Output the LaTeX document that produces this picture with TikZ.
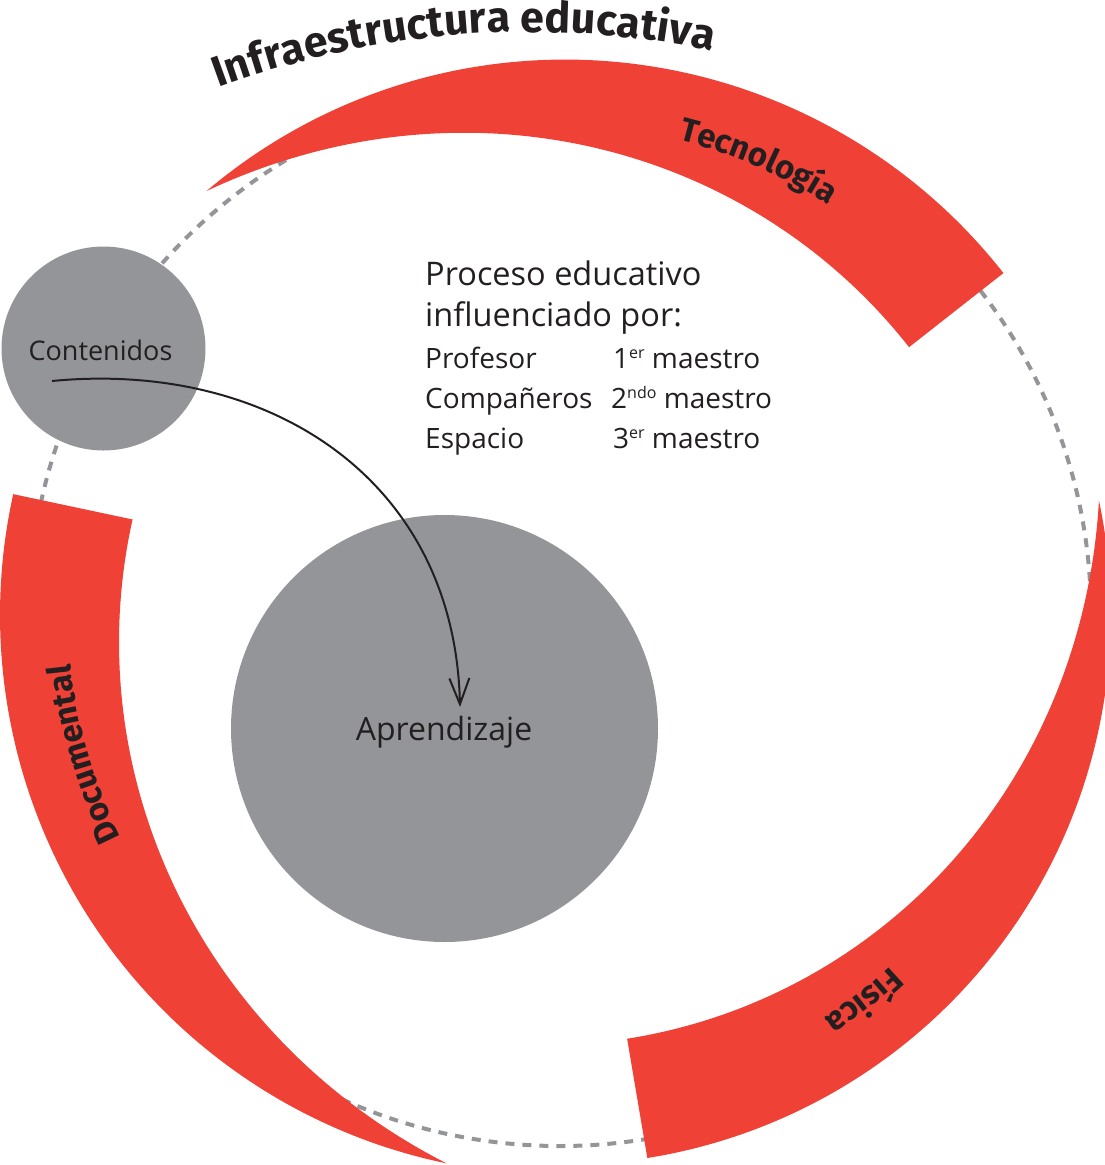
\documentclass[tikz,border=0pt]{standalone}
\usepackage{fontspec}
\setmainfont{Open Sans}
\newfontfamily\labfont{Fira Sans}
\usetikzlibrary{decorations.text,arrows.meta,calc}
\definecolor{bandred}{HTML}{EF4136}
\definecolor{cgray}{HTML}{939598}
\definecolor{ink}{HTML}{231F20}
% small raised ordinal
\newcommand\ordsup[1]{\raisebox{10pt}{\fontsize{16}{16}\selectfont #1}}
% crescent band around the common centre (560,-615)
% #1 tip angle, #2 end angle, #3 outer radius at tip, #4 outer radius at end, #5 thickness at end
\newcommand\redband[5]{%
  \fill[bandred]
    plot[domain=0:1,samples=100,variable=\s]
      ({560+(#3+(#4-#3)*\s)*cos(#1+(#2-#1)*\s)},{-615+(#3+(#4-#3)*\s)*sin(#1+(#2-#1)*\s)})
    -- plot[domain=1:0,samples=100,variable=\s]
      ({560+(#3+(#4-#3)*\s-#5*(1-(1-\s)^2))*cos(#1+(#2-#1)*\s)},{-615+(#3+(#4-#3)*\s-#5*(1-(1-\s)^2))*sin(#1+(#2-#1)*\s)})
    -- cycle;}
\begin{document}
\begin{tikzpicture}[x=1pt,y=1pt,
  dashc/.style={draw=cgray, line width=4pt, dash pattern=on 9pt off 8pt},
  bubble/.style={circle, fill=cgray, inner sep=0pt},
  txt/.style={inner sep=0pt, text=ink},
  bigtxt/.style={txt, anchor=base west, font=\fontsize{32.5}{38}\selectfont},
  smalltxt/.style={txt, anchor=base west, font=\fontsize{28}{34}\selectfont},
  bandtext/.style={decorate, decoration={text along path, text align=center, text color=ink,
     text={|\labfont\bfseries\fontsize{33}{40}\selectfont|#1}}},
  flow/.style={draw=ink, line width=2pt, -{Straight Barb[length=26pt,width=20pt]}}]
\useasboundingbox (0,0) rectangle (1104,-1165);
\coordinate (C) at (560,-615);
% dashed ring
\draw[dashc] (C) circle[radius=531];
% red bands
\redband{129.8}{37.5}{552}{560}{120}
\redband{258.3}{167.4}{560}{560}{122}
\redband{12.0}{-81.0}{551}{550}{121}
% title
\path[decorate, decoration={text along path, text align=center, text color=ink,
   text={|\labfont\bfseries\fontsize{43}{50}\selectfont|Infraestructura educativa}}]
   ($(530,-932)+(120:900)$) arc[start angle=120, end angle=68.6, radius=900];
% band labels
\path[bandtext=Tecnología] ($(C)+(86.4:490)$) arc[start angle=86.4, end angle=46.4, radius=490];
\path[bandtext=Documental] ($(C)+(216.3:492)$) arc[start angle=216.3, end angle=176.3, radius=492];
\path[bandtext=Física] ($(C)+(-31.8:482)$) arc[start angle=-31.8, end angle=-71.8, radius=482];
% bubbles
\node[bubble, minimum size=204] (cont) at (103.5,-348.5) {};
\node[bubble, minimum size=427] (apr) at (444.5,-728.5) {};
\node[txt, anchor=base, font=\fontsize{27}{32}\selectfont] (contlab) at (100.5,-360) {Contenidos};
\node[txt, anchor=base, font=\fontsize{32}{38}\selectfont] (aprlab) at (444,-740) {Aprendizaje};
% arrow
\draw[flow] ([shift={(-51.5,-32.5)}]cont.center) .. controls +(218,21) and +(-5,227) .. ([shift={(15.5,21.5)}]apr.center);
% text block
\node[bigtxt] (t1) at (425,-285) {Proceso educativo};
\node[bigtxt] (t2) at (425,-326) {influenciado por:};
\node[smalltxt] (t3) at (425,-368) {Profesor};
\node[smalltxt] (t4) at (425,-408) {Compañeros};
\node[smalltxt] (t5) at (425,-448) {Espacio};
\node[smalltxt] (m3) at (613,-368) {1\ordsup{er} maestro};
\node[smalltxt] (m4) at (611,-408) {2\ordsup{ndo} maestro};
\node[smalltxt] (m5) at (613,-448) {3\ordsup{er} maestro};
\end{tikzpicture}
\end{document}
